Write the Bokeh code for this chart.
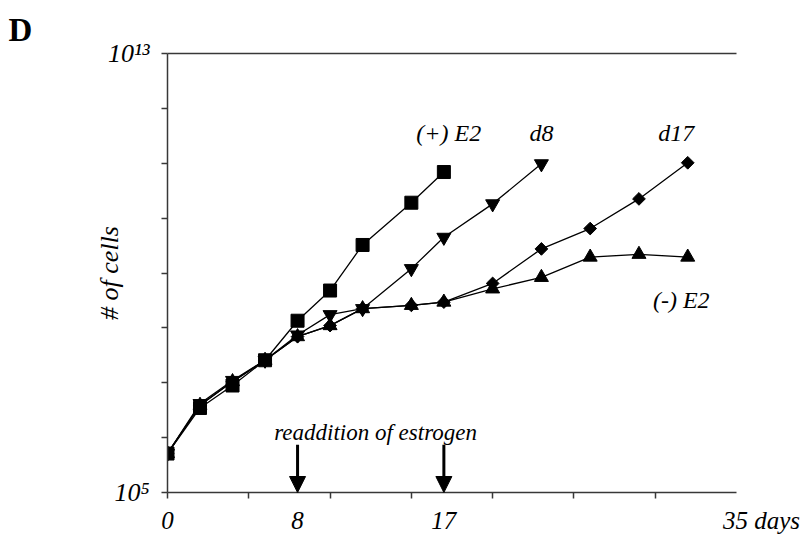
from bokeh.plotting import figure
from bokeh.models import FixedTicker, LinearAxis, Label, Arrow, NormalHead, Range1d
from bokeh.embed import file_html
from bokeh.resources import INLINE

# ---------------- data ----------------
days_plus_e2 = [0, 2, 4, 6, 8, 10, 12, 15, 17]
cells_plus_e2 = [5.13e5, 3.47e6, 8.91e6, 2.57e7, 1.35e8, 4.79e8, 3.24e9, 1.91e10, 6.92e10]

days_d8 = [0, 2, 4, 6, 8, 10, 12, 15, 17, 20, 23]
cells_d8 = [5.13e5, 4.17e6, 1.10e7, 2.57e7, 7.41e7, 1.74e8, 2.24e8, 1.20e9, 4.47e9, 1.82e10, 9.77e10]

days_minus_e2 = [0, 2, 4, 6, 8, 10, 12, 15, 17, 20, 23, 26, 29, 32]
cells_minus_e2 = [5.13e5, 3.89e6, 1.05e7, 2.57e7, 6.92e7, 1.10e8, 2.24e8, 2.57e8, 2.95e8,
                  5.13e8, 8.32e8, 1.95e9, 2.19e9, 1.95e9]

days_d17 = [0, 2, 4, 6, 8, 10, 12, 15, 17, 20, 23, 26, 29, 32]
cells_d17 = [5.13e5, 3.89e6, 1.05e7, 2.57e7, 6.92e7, 1.10e8, 2.24e8, 2.57e8, 2.95e8,
             6.46e8, 2.75e9, 6.46e9, 2.24e10, 1.02e11]

readdition_days = [8, 17]

x_label_ticks = [0, 8, 17, 35]
x_tick_labels = {0: "0", 8: "8", 17: "17", 35: "\u00a0" * 8 + "35 days"}
x_minor_ticks = [0, 5, 10, 15, 20, 25, 30]
y_ticks = [1e5, 1e6, 1e7, 1e8, 1e9, 1e10, 1e11, 1e12, 1e13]
y_tick_labels = {1e5: "10\u2075", 1e13: "10\u00b9\u00b3"}

FONT = "Liberation Serif"
AX = "#383838"

p = figure(width=809, height=538,
           x_range=Range1d(0, 35), y_range=Range1d(1e5, 1e13),
           y_axis_type="log", output_backend="svg", toolbar_location=None,
           min_border_left=167, min_border_right=73,
           min_border_top=53, min_border_bottom=46)
p.grid.visible = False
p.outline_line_color = None
p.background_fill_color = "white"

# panel letter
p.title.text = "D"
p.title.align = "left"
p.title.offset = -159
p.title.text_font = FONT
p.title.text_font_style = "bold"
p.title.text_font_size = "33px"
p.title.text_color = "black"
p.title.standoff = 11

# x axis
xa = p.xaxis[0]
xa.ticker = FixedTicker(ticks=x_label_ticks, minor_ticks=x_minor_ticks)
xa.major_label_overrides = x_tick_labels
xa.major_tick_out = 0
xa.major_tick_in = 0
xa.minor_tick_out = 6
xa.minor_tick_in = 0
xa.minor_tick_line_color = AX
xa.minor_tick_line_width = 1.5
xa.axis_line_color = AX
xa.axis_line_width = 1.5
xa.major_label_text_font = FONT
xa.major_label_text_font_style = "italic"
xa.major_label_text_font_size = "25px"
xa.major_label_text_color = "black"
xa.major_label_standoff = 8

# y axis
ya = p.yaxis[0]
ya.ticker = FixedTicker(ticks=y_ticks)
ya.major_label_overrides = {t: y_tick_labels.get(t, "") for t in y_ticks}
ya.major_tick_out = 6
ya.major_tick_in = 0
ya.major_tick_line_color = AX
ya.major_tick_line_width = 1.5
ya.minor_tick_line_color = None
ya.axis_line_color = AX
ya.axis_line_width = 1.5
ya.major_label_text_font = FONT
ya.major_label_text_font_style = "italic"
ya.major_label_text_font_size = "26px"
ya.major_label_text_color = "black"
ya.major_label_standoff = 12
ya.axis_label = "# of cells"
ya.axis_label_text_font = FONT
ya.axis_label_text_font_style = "italic"
ya.axis_label_text_font_size = "26px"
ya.axis_label_text_color = "black"
ya.axis_label_standoff = -19

# top border line
top = LinearAxis(ticker=FixedTicker(ticks=[]), major_label_text_font_size="0px",
                 major_tick_out=0, major_tick_in=0, minor_tick_out=0, minor_tick_in=0,
                 major_label_standoff=0,
                 axis_line_color=AX, axis_line_width=1.5)
p.add_layout(top, "above")

# series
series = [
    (days_d17, cells_d17, "square", 9, 0.785398),
    (days_minus_e2, cells_minus_e2, "triangle", 14, 0.0),
    (days_d8, cells_d8, "inverted_triangle", 14, 0.0),
    (days_plus_e2, cells_plus_e2, "square", 13, 0.0),
]
for d, c, m, s, a in series:
    p.line(d, c, line_color="black", line_width=1.3)
for d, c, m, s, a in series:
    p.scatter(d, c, marker=m, size=s, angle=a, fill_color="black", line_color="black")

# labels
def lab(x, y, text, size="24px"):
    p.add_layout(Label(x=x, y=y, text=text, text_font=FONT, text_font_style="italic",
                       text_font_size=size, text_align="center", text_baseline="alphabetic",
                       text_color="black"))

lab(17.3, 10 ** 11.56, "(+) E2")
lab(23.0, 10 ** 11.56, "d8")
lab(31.3, 10 ** 11.56, "d17")
lab(31.6, 10 ** 8.50, "(-) E2")
lab(12.8, 10 ** 6.1, "readdition of estrogen", size="23px")

for d in readdition_days:
    p.add_layout(Arrow(end=NormalHead(size=16, fill_color="black", line_color="black"),
                       x_start=d, y_start=10 ** 5.87, x_end=d, y_end=1e5,
                       line_width=3, line_color="black"))

open("out.html", "w").write(file_html(p, INLINE))
